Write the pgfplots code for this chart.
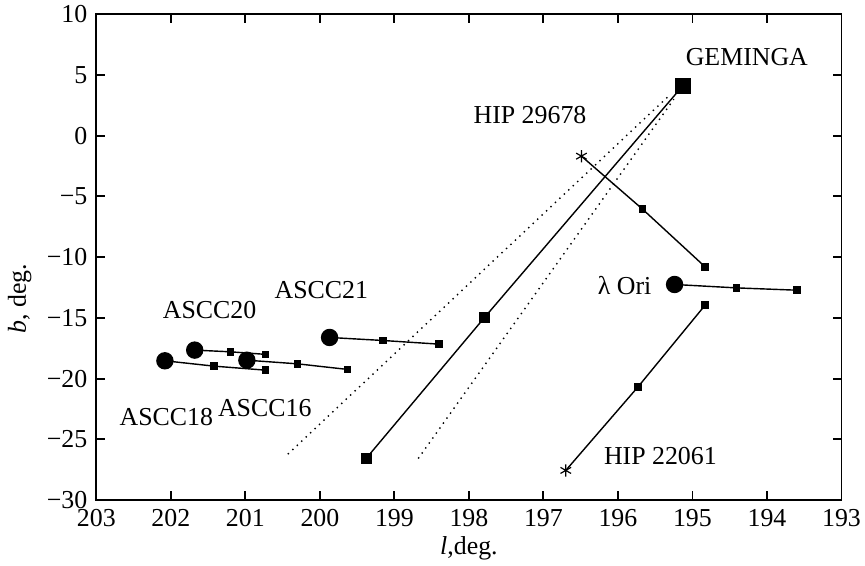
\documentclass[border=0pt]{standalone}
\usepackage{fontspec}
\setmainfont{Liberation Serif}
\usepackage{pgfplots}
\pgfplotsset{compat=1.18}
\begin{document}
\fontsize{11}{13}\selectfont
\begin{tikzpicture}
\useasboundingbox (-41pt,-27.7pt) rectangle (327pt,212.8pt);
\begin{axis}[
    scale only axis,
    width=317pt, height=206.8pt,
    x dir=reverse,
    xmin=193, xmax=203, ymin=-30, ymax=10,
    xtick={193,194,...,203},
    ytick={-30,-25,...,10},
    tick align=inside,
    major tick length=3.8pt,
    axis line style={line width=0.8pt},
    tick style={line width=0.8pt, black},
    /pgf/number format/assume math mode=true,
    yticklabel={\pgfmathparse{abs(\tick)}\ifdim\tick pt<0pt\char"2212\fi\pgfmathprintnumber{\pgfmathresult}},
    xlabel={\textit{l},deg.},
    ylabel={\textit{b}, deg.},
    xlabel style={at={(axis description cs:0.5,-0.0987)}, anchor=center},
    ylabel style={at={(axis description cs:-0.1028,0.414)}, anchor=center},
    every axis plot/.append style={black, line width=0.6pt},
]
% dotted cone around the GEMINGA track
\addplot[dotted, line width=0.6pt] coordinates {(200.43,-26.21) (195.33,3.2)};
\addplot[dotted, line width=0.6pt] coordinates {(198.68,-26.57) (195.25,3.0)};

% GEMINGA track
\addplot[mark=square*, mark size=2pt, mark indices={2,3}] coordinates {(195.13,4.1) (197.79,-14.96) (199.38,-26.57)};
\addplot[only marks, mark=square*, mark size=3pt] coordinates {(195.13,4.1)};

% clusters and stars
\addplot[mark=square*, mark size=1.3pt, mark indices={2,3}] coordinates {(202.08,-18.53) (201.42,-18.97) (200.73,-19.30)};
\addplot[mark=square*, mark size=1.3pt, mark indices={2,3}] coordinates {(201.68,-17.65) (201.20,-17.79) (200.73,-18.00)};
\addplot[mark=square*, mark size=1.3pt, mark indices={2,3}] coordinates {(200.98,-18.48) (200.30,-18.78) (199.63,-19.24)};
\addplot[mark=square*, mark size=1.3pt, mark indices={2,3}] coordinates {(199.87,-16.61) (199.15,-16.86) (198.40,-17.16)};
\addplot[mark=square*, mark size=1.3pt, mark indices={2,3}] coordinates {(195.24,-12.25) (194.41,-12.53) (193.60,-12.72)};
\addplot[mark=square*, mark size=1.3pt, mark indices={2,3}] coordinates {(196.49,-1.69) (195.67,-6.05) (194.83,-10.80)};
\addplot[mark=square*, mark size=1.3pt, mark indices={2,3}] coordinates {(196.70,-27.55) (195.73,-20.67) (194.83,-13.95)};

\addplot[only marks, mark=*, mark size=3.4pt] coordinates {(202.08,-18.53) (201.68,-17.65) (200.98,-18.48) (199.87,-16.61) (195.24,-12.25)};
\addplot[only marks, mark=asterisk, mark size=2.6pt, line width=0.5pt] coordinates {(196.49,-1.69) (196.70,-27.55)};

\node at (axis cs:194.27,6.46) {GEMINGA};
\node at (axis cs:197.18,1.7) {HIP 29678};
\node at (axis cs:195.91,-12.3) {λ Ori};
\node at (axis cs:195.43,-26.4) {HIP 22061};
\node at (axis cs:199.98,-12.7) {ASCC21};
\node at (axis cs:201.48,-14.36) {ASCC20};
\node at (axis cs:202.06,-23.15) {ASCC18};
\node at (axis cs:200.74,-22.45) {ASCC16};
\end{axis}
\end{tikzpicture}
\end{document}
